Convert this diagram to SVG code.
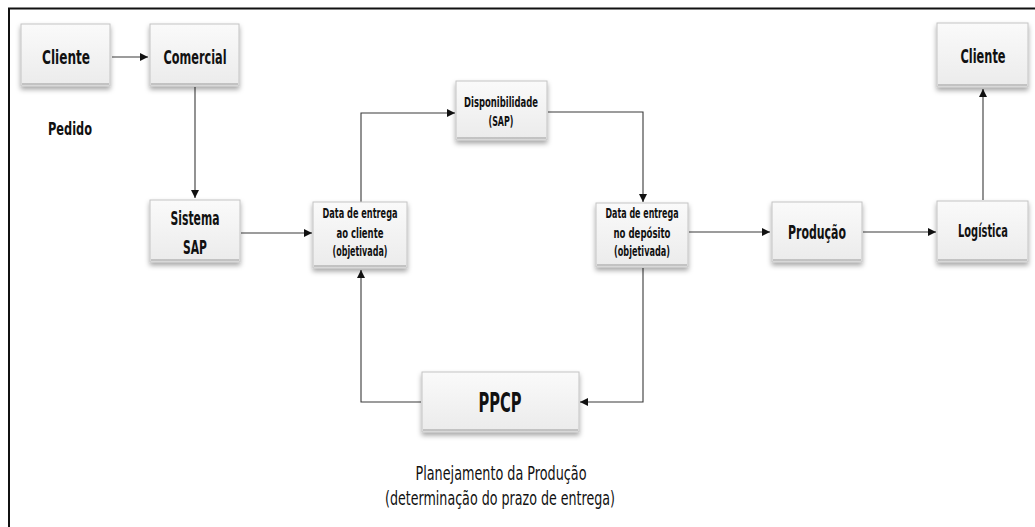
<svg xmlns="http://www.w3.org/2000/svg" width="1035" height="527" viewBox="0 0 1035 527">
  <style>
    .box { fill: url(#boxFill); stroke: #c4c4c4; stroke-width: 1; filter: url(#shadow); }
    .bevel { stroke: #9a9a9a; stroke-width: 1.2; fill: none; }
    .lbl { font-family: "DejaVu Sans Condensed", "Liberation Sans", sans-serif; font-weight: bold; fill: #111; text-anchor: middle; }
    .big { font-size: 20px; }
    .small { font-size: 14px; }
    .note { font-family: "DejaVu Sans Condensed", "Liberation Sans", sans-serif; fill: #111; text-anchor: middle; font-size: 19px; }
    .wire { stroke: #3a3a3a; stroke-width: 1.1; fill: none; }
  </style>
  <defs>
    <linearGradient id="boxFill" x1="0" y1="0" x2="0" y2="1">
      <stop offset="0" stop-color="#fafafa"/>
      <stop offset="1" stop-color="#ebebeb"/>
    </linearGradient>
    <filter id="shadow" x="-7%" y="-10%" width="114%" height="135%">
      <feDropShadow dx="0" dy="3" stdDeviation="2.5" flood-color="#000" flood-opacity="0.35"/>
    </filter>
    <marker id="arrow" viewBox="0 0 10 10" refX="10" refY="5" markerWidth="8" markerHeight="8" markerUnits="userSpaceOnUse" orient="auto">
      <path d="M0,0 L10,5 L0,10 Z" fill="#111"/>
    </marker>
  </defs>

  <rect width="1035" height="527" fill="#fff"/>

  <!-- outer frame (top and left edges) -->
  <path d="M9,527 V8.5 H1035" stroke="#111" stroke-width="2" fill="none"/>

  <!-- connectors -->
  <g id="connectors">
    <path class="wire" d="M112,57 H148" marker-end="url(#arrow)"/>
    <path class="wire" d="M195,87 V198" marker-end="url(#arrow)"/>
    <path class="wire" d="M241,233 H312" marker-end="url(#arrow)"/>
    <path class="wire" d="M361,202 V113 H455" marker-end="url(#arrow)"/>
    <path class="wire" d="M548,112 H643 V202" marker-end="url(#arrow)"/>
    <path class="wire" d="M689,232 H770" marker-end="url(#arrow)"/>
    <path class="wire" d="M863,232 H936" marker-end="url(#arrow)"/>
    <path class="wire" d="M983,200 V89" marker-end="url(#arrow)"/>
    <path class="wire" d="M643,268 V402 H580" marker-end="url(#arrow)"/>
    <path class="wire" d="M421,402 H361 V270" marker-end="url(#arrow)"/>
  </g>

  <g id="cliente-pedido">
    <rect class="box" x="21" y="24" width="89" height="62"/>
    <line class="bevel" x1="22" y1="84" x2="109" y2="84"/>
    <text class="lbl big" x="66" y="64" textLength="48" lengthAdjust="spacingAndGlyphs">Cliente</text>
  </g>
  <text class="lbl" x="70" y="135" font-size="18" textLength="44" lengthAdjust="spacingAndGlyphs">Pedido</text>

  <g id="comercial">
    <rect class="box" x="150" y="24" width="89" height="62"/>
    <line class="bevel" x1="151" y1="84" x2="238" y2="84"/>
    <text class="lbl big" x="195" y="64" textLength="63" lengthAdjust="spacingAndGlyphs">Comercial</text>
  </g>

  <g id="sistema-sap">
    <rect class="box" x="150" y="200" width="90" height="62"/>
    <line class="bevel" x1="151" y1="260" x2="239" y2="260"/>
    <text class="lbl big" x="195" y="225" textLength="49" lengthAdjust="spacingAndGlyphs">Sistema</text>
    <text class="lbl big" x="195" y="254" textLength="24" lengthAdjust="spacingAndGlyphs">SAP</text>
  </g>

  <g id="data-cliente">
    <rect class="box" x="313" y="202" width="94" height="66"/>
    <line class="bevel" x1="314" y1="266" x2="406" y2="266"/>
    <text class="lbl small" x="360" y="218" textLength="75" lengthAdjust="spacingAndGlyphs">Data de entrega</text>
    <text class="lbl small" x="360" y="238" textLength="47" lengthAdjust="spacingAndGlyphs">ao cliente</text>
    <text class="lbl small" x="360" y="256" textLength="55" lengthAdjust="spacingAndGlyphs">(objetivada)</text>
  </g>

  <g id="disponibilidade">
    <rect class="box" x="456" y="81" width="91" height="59"/>
    <line class="bevel" x1="457" y1="138" x2="546" y2="138"/>
    <text class="lbl small" x="501" y="107" textLength="74" lengthAdjust="spacingAndGlyphs">Disponibilidade</text>
    <text class="lbl small" x="501" y="126" textLength="25" lengthAdjust="spacingAndGlyphs">(SAP)</text>
  </g>

  <g id="data-deposito">
    <rect class="box" x="596" y="203" width="92" height="64"/>
    <line class="bevel" x1="597" y1="265" x2="687" y2="265"/>
    <text class="lbl small" x="642" y="218" textLength="73" lengthAdjust="spacingAndGlyphs">Data de entrega</text>
    <text class="lbl small" x="642" y="238" textLength="57" lengthAdjust="spacingAndGlyphs">no depósito</text>
    <text class="lbl small" x="642" y="256" textLength="56" lengthAdjust="spacingAndGlyphs">(objetivada)</text>
  </g>

  <g id="producao">
    <rect class="box" x="772" y="202" width="90" height="60"/>
    <line class="bevel" x1="773" y1="260" x2="861" y2="260"/>
    <text class="lbl big" x="817" y="239" textLength="58" lengthAdjust="spacingAndGlyphs">Produção</text>
  </g>

  <g id="logistica">
    <rect class="box" x="937" y="201" width="91" height="61"/>
    <line class="bevel" x1="938" y1="260" x2="1027" y2="260"/>
    <text class="lbl" x="983" y="237" font-size="18" textLength="50" lengthAdjust="spacingAndGlyphs">Logística</text>
  </g>

  <g id="cliente-final">
    <rect class="box" x="937" y="23" width="91" height="64"/>
    <line class="bevel" x1="938" y1="85" x2="1027" y2="85"/>
    <text class="lbl big" x="983" y="63" textLength="45" lengthAdjust="spacingAndGlyphs">Cliente</text>
  </g>

  <g id="ppcp">
    <rect class="box" x="422" y="372" width="157" height="60"/>
    <line class="bevel" x1="423" y1="430" x2="578" y2="430"/>
    <text class="lbl" x="500" y="412" font-size="26" textLength="43" lengthAdjust="spacingAndGlyphs">PPCP</text>
  </g>
  <text class="note" x="501" y="480" textLength="171" lengthAdjust="spacingAndGlyphs">Planejamento da Produção</text>
  <text class="note" x="500" y="505" textLength="230" lengthAdjust="spacingAndGlyphs">(determinação do prazo de entrega)</text>
</svg>
